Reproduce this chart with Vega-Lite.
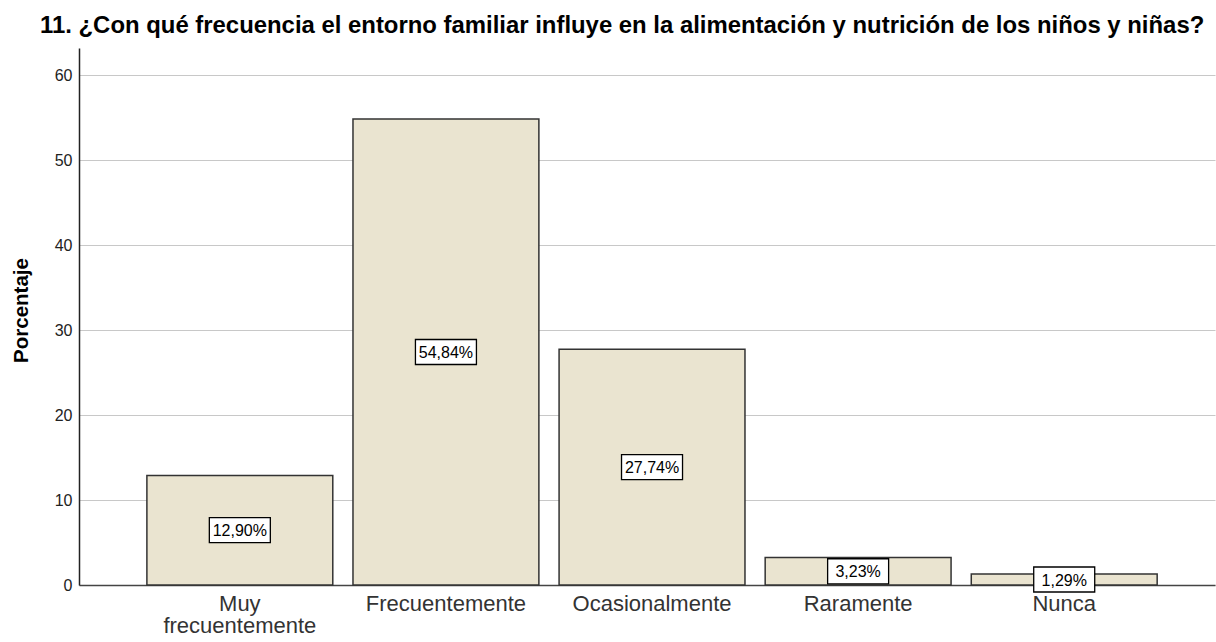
{
  "$schema": "https://vega.github.io/schema/vega-lite/v6.json",
  "autosize": {"type": "none"},
  "padding": {"left": 79, "top": 48, "right": 1, "bottom": 57},
  "width": 1136,
  "height": 537,
  "background": "white",
  "title": {
    "text": "11. ¿Con qué frecuencia el entorno familiar influye en la alimentación y nutrición de los niños y niñas?",
    "anchor": "start",
    "frame": "group",
    "dx": -39,
    "offset": 10,
    "font": "Liberation Sans",
    "fontSize": 23.9,
    "fontWeight": "bold",
    "color": "#000000"
  },
  "data": {
    "values": [
      {"cat": "Muy frecuentemente", "pct": 12.90},
      {"cat": "Frecuentemente", "pct": 54.84},
      {"cat": "Ocasionalmente", "pct": 27.74},
      {"cat": "Raramente", "pct": 3.23},
      {"cat": "Nunca", "pct": 1.29}
    ]
  },
  "encoding": {
    "x": {
      "field": "cat",
      "type": "nominal",
      "sort": null,
      "scale": {"paddingInner": 0.098, "paddingOuter": 0.305, "align": 0.54},
      "axis": {
        "title": null,
        "labelAngle": 0,
        "ticks": false,
        "labelPadding": 8,
        "labelFont": "Liberation Sans",
        "labelFontSize": 22,
        "labelColor": "#333333",
        "labelLineHeight": 22,
        "labelExpr": "datum.label == 'Muy frecuentemente' ? ['Muy', 'frecuentemente'] : datum.label",
        "domainColor": "#444444",
        "domainWidth": 1.5,
        "grid": false
      }
    }
  },
  "layer": [
    {
      "mark": {"type": "bar", "fill": "#EAE4D0", "stroke": "#333333", "strokeWidth": 1.5},
      "encoding": {
        "y": {
          "field": "pct",
          "type": "quantitative",
          "scale": {"domain": [0, 63.2], "nice": false},
          "axis": {
            "title": "Porcentaje",
            "values": [0, 10, 20, 30, 40, 50, 60],
            "ticks": false,
            "labelPadding": 7,
            "labelFont": "Liberation Sans",
            "labelFontSize": 16,
            "labelColor": "#222222",
            "domainColor": "#222222",
            "domainWidth": 1.5,
            "grid": true,
            "gridColor": "#C8C8C8",
            "gridWidth": 1,
            "titleFont": "Liberation Sans",
            "titleFontSize": 20.5,
            "titleFontWeight": "bold",
            "titleColor": "#000000",
            "titleAngle": 270,
            "titleX": -58,
            "titleY": 262,
            "titleAlign": "center",
            "titleBaseline": "middle"
          }
        }
      }
    },
    {
      "transform": [
        {"calculate": "datum.pct / 2", "as": "mid"}
      ],
      "mark": {"type": "point", "shape": "M-1,-0.41H1V0.41H-1Z", "size": 3721, "filled": true, "fill": "#FFFFFF", "stroke": "#000000", "strokeWidth": 1.3, "opacity": 1},
      "encoding": {
        "y": {"field": "mid", "type": "quantitative"}
      }
    },
    {
      "transform": [
        {"calculate": "datum.pct / 2", "as": "mid"},
        {"calculate": "replace(format(datum.pct, '.2f'), '.', ',') + '%'", "as": "lab"}
      ],
      "mark": {"type": "text", "font": "Liberation Sans", "fontSize": 16, "color": "#000000", "baseline": "middle", "align": "center", "dy": 1},
      "encoding": {
        "y": {"field": "mid", "type": "quantitative"},
        "text": {"field": "lab", "type": "nominal"}
      }
    }
  ],
  "config": {"view": {"stroke": null}}
}
